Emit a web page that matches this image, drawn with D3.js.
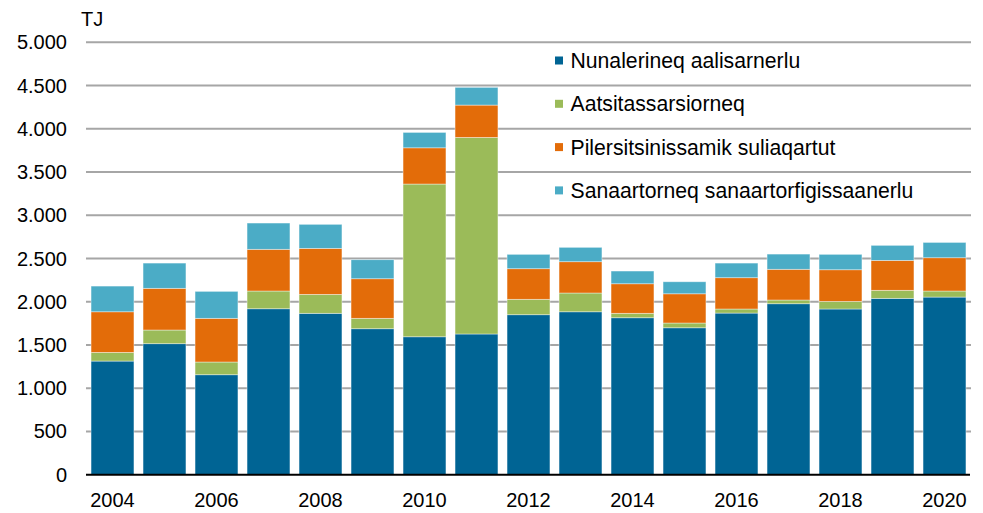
<!DOCTYPE html>
<html>
<head>
<meta charset="utf-8">
<script src="https://cdn.jsdelivr.net/npm/d3@7"></script>
<style>
  html, body { margin: 0; padding: 0; background: #fff; }
  svg { display: block; font-family: "Liberation Sans", Arial, sans-serif; }
</style>
</head>
<body>
<svg id="chart" width="983" height="513"></svg>
<script>
const years = ["2004","2005","2006","2007","2008","2009","2010","2011","2012","2013","2014","2015","2016","2017","2018","2019","2020"];
const seriesNames = ["Nunalerineq aalisarnerlu","Aatsitassarsiorneq","Pilersitsinissamik suliaqartut","Sanaartorneq sanaartorfigissaanerlu"];
const nunalerineq = [1314,1515,1156,1919,1866,1688,1595,1627,1850,1884,1815,1699,1869,1977,1916,2039,2054];
const aatsitassarsiorneq = [100,158,147,205,219,120,1766,2273,178,217,51,55,47,43,88,93,70];
const pilersitsinissamik = [470,482,505,482,532,458,419,374,354,362,342,338,362,355,366,346,385];
const sanaartorneq = [297,292,312,304,278,220,178,205,166,166,147,139,169,176,178,174,177];
const colors = ["#006494","#9BBB59","#E36C09","#4BACC6"];
const yTicks = [0,500,1000,1500,2000,2500,3000,3500,4000,4500,5000];
const xTickLabels = ["2004","2006","2008","2010","2012","2014","2016","2018","2020"];
const unitLabel = "TJ";

const seriesValues = [nunalerineq, aatsitassarsiorneq, pilersitsinissamik, sanaartorneq];
const rows = years.map((y, i) => {
  const r = { year: y };
  seriesNames.forEach((s, k) => r[s] = seriesValues[k][i]);
  return r;
});

const svg = d3.select("#chart");
const x = d3.scaleBand().domain(years).range([86.5, 970.5]).paddingInner(0.175).paddingOuter(0.0875);
const y = d3.scaleLinear().domain([0, 5000]).range([474.7, 42.3]);

const fmt = v => d3.format(",")(v).replace(/,/g, ".");

// gridlines
svg.append("g").selectAll("line").data(yTicks.filter(t => t > 0)).join("line")
  .attr("x1", 86).attr("x2", 971)
  .attr("y1", d => y(d)).attr("y2", d => y(d))
  .attr("stroke", "#a6a6a6").attr("stroke-width", 2);

// y axis labels
svg.append("g").selectAll("text").data(yTicks).join("text")
  .attr("x", 67).attr("y", d => y(d) + 7)
  .attr("text-anchor", "end").attr("font-size", 20).attr("fill", "#000")
  .text(d => fmt(d));

svg.append("text").attr("x", 81).attr("y", 26).attr("font-size", 20).attr("fill", "#000").text(unitLabel);

// stacked bars
const stack = d3.stack().keys(seriesNames)(rows);
svg.append("g").selectAll("g").data(stack).join("g")
  .attr("fill", (d, i) => colors[i])
  .selectAll("rect").data(d => d).join("rect")
  .attr("x", d => x(d.data.year))
  .attr("width", x.bandwidth())
  .attr("y", d => y(d[1]))
  .attr("height", d => y(d[0]) - y(d[1]))
  .attr("stroke", "#ffffff").attr("stroke-opacity", 0.5).attr("stroke-width", 0.8);

// x axis line
svg.append("line").attr("x1", 86).attr("x2", 970).attr("y1", y(0)).attr("y2", y(0))
  .attr("stroke", "#000").attr("stroke-width", 2);

// x labels
svg.append("g").selectAll("text").data(xTickLabels).join("text")
  .attr("x", d => x(d) + x.bandwidth() / 2).attr("y", 507)
  .attr("text-anchor", "middle").attr("font-size", 20).attr("fill", "#000")
  .text(d => d);

// legend
const lg = svg.append("g");
seriesNames.forEach((s, i) => {
  const cy = 60.5 + i * 43.3;
  lg.append("rect").attr("x", 555).attr("y", cy - 4).attr("width", 8).attr("height", 8).attr("fill", colors[i]);
  lg.append("text").attr("x", 570.5).attr("y", cy + 7.5).attr("font-size", 21.2).attr("fill", "#000").text(s);
});
</script>
</body>
</html>
